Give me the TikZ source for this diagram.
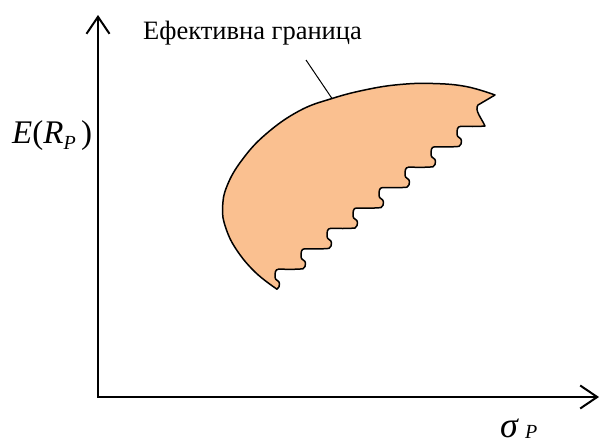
\documentclass[tikz,border=0pt]{standalone}
\usepackage{fontspec}
\setmainfont{Liberation Serif}
\usetikzlibrary{arrows.meta}
\definecolor{setfill}{HTML}{FAC090}

\begin{document}
\begin{tikzpicture}[
        x=1pt, y=-1pt,
        axis/.style={line width=2pt, {Straight Barb[length=17pt, width=23pt]}-{Straight Barb[length=17pt, width=23pt]}},
        frontier/.style={draw, line width=1.5pt, fill=setfill, line join=round},
        callout/.style={line width=1pt},
        lbl/.style={inner sep=0pt, font=\fontsize{26.5}{30}\selectfont},
        mathlbl/.style={inner sep=0pt, font=\fontsize{33}{36}\selectfont}
    ]
    \useasboundingbox (0,0) rectangle (600,447);

    % axes
    \coordinate (origin) at (98,397);
    \coordinate (ytop) at (98,15);
    \coordinate (xend) at (599,397);
    \draw[axis] (ytop) -- (origin) -- (xend);

    % feasible set with serrated lower edge
    \coordinate (tip) at (495,95);
    \coordinate (notch) at (478,105);
    \coordinate (step0) at (485,126);
    \filldraw[frontier] (tip) -- (notch)
        .. controls +(-4,5) and +(-3,-7) .. (step0)
        foreach \i in {1,...,8} {
            .. controls +(-9,0.8) and +(9,0) .. ++(-24.5,0.4)
            .. controls +(-3.5,0) and +(0,-4) .. ++(-3.5,8)
            .. controls +(0,3.5) and +(0,-3.5) .. ++(4.5,6.5)
            .. controls +(0,3) and +(2,-2) .. ++(-2.5,5.5)
        }
        -- plot[smooth, tension=0.7] coordinates {(277,289.2) (255,272) (236,249) (225.5,227) (222.6,208) (227,186) (242,160) (266,134) (299,111) (332,98.5) (367,89.5) (400,84.5) (433,83.5) (466,86.5) (495,95)}
        -- cycle;

    % labels
    \node[lbl, anchor=base west] (efflabel) at (143,39) {Ефективна граница};
    \coordinate (callfrom) at (306,60);
    \coordinate (callto) at (332,98.5);
    \draw[callout] (callfrom) -- (callto);

    \node[mathlbl, anchor=base west] (ylabel) at (12,143) {\textit{E}(\textit{R}\raisebox{-0.2em}{\fontsize{20}{20}\selectfont\textit{P}}\,)};
    \node[mathlbl, anchor=base west, font=\fontsize{36}{38}\selectfont] (xlabel) at (500,437) {\textit{σ}\,\raisebox{-0.05em}{\fontsize{20}{20}\selectfont\textit{P}}};
\end{tikzpicture}
\end{document}
